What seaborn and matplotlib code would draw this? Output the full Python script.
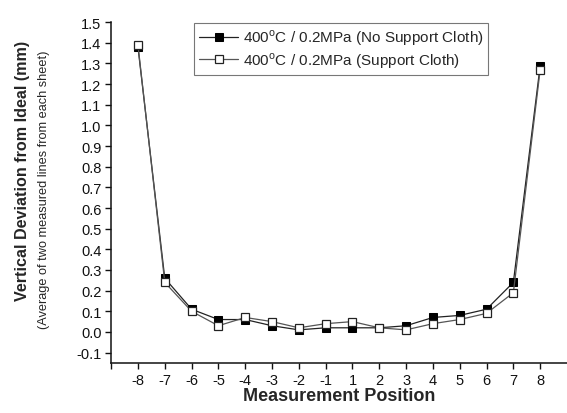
import numpy as np
import pandas as pd
import matplotlib
matplotlib.use("Agg")
import matplotlib.pyplot as plt
import seaborn as sns

positions = ["-8", "-7", "-6", "-5", "-4", "-3", "-2", "-1",
             "1", "2", "3", "4", "5", "6", "7", "8"]
no_support = [1.38, 0.26, 0.11, 0.06, 0.06, 0.03, 0.01, 0.02,
              0.02, 0.02, 0.03, 0.07, 0.08, 0.11, 0.24, 1.29]
support = [1.39, 0.24, 0.10, 0.03, 0.07, 0.05, 0.02, 0.04,
           0.05, 0.02, 0.01, 0.04, 0.06, 0.09, 0.19, 1.27]
series_names = [r"400$^{\mathrm{o}}$C / 0.2MPa (No Support Cloth)",
                r"400$^{\mathrm{o}}$C / 0.2MPa (Support Cloth)"]
yticks = [-0.1, 0.0, 0.1, 0.2, 0.3, 0.4, 0.5, 0.6, 0.7, 0.8, 0.9, 1.0,
          1.1, 1.2, 1.3, 1.4, 1.5]

sns.set_style("ticks")
plt.rcParams["font.family"] = ["Liberation Sans", "DejaVu Sans"]
plt.rcParams["mathtext.fontset"] = "custom"
plt.rcParams["mathtext.rm"] = "Liberation Sans"

idx = np.arange(1, len(positions) + 1)
df = pd.DataFrame({"pos": idx, "a": no_support, "b": support})

fig = plt.figure(figsize=(5.67, 4.14), dpi=100)
ax = fig.add_axes([0.196, 0.121, 0.804, 0.823])

sns.lineplot(data=df, x="pos", y="a", ax=ax, color="#222222", lw=0.9,
             marker="s", markersize=6, markerfacecolor="black",
             markeredgecolor="black", label=series_names[0])
sns.lineplot(data=df, x="pos", y="b", ax=ax, color="#555555", lw=0.9,
             marker="s", markersize=6, markerfacecolor="white",
             markeredgecolor="#222222", markeredgewidth=0.9,
             label=series_names[1])

ax.set_xlim(0, 17)
ax.set_ylim(-0.15, 1.5)
ax.set_xticks(np.arange(0, len(positions) + 1))
ax.set_xticklabels([""] + positions)
ax.set_yticks(yticks)
ax.set_yticklabels([f"{v:.1f}" for v in yticks])
ax.tick_params(axis="both", direction="out", length=4, width=1,
               labelsize=10.5, colors="#111111", pad=3)
for s in ["top", "right"]:
    ax.spines[s].set_visible(False)
for s in ["left", "bottom"]:
    ax.spines[s].set_linewidth(1.1)
    ax.spines[s].set_color("#111111")

ax.set_xlabel("Measurement Position", fontsize=13, fontweight="bold",
              labelpad=0)
ax.set_ylabel("")
fig.text(0.039, 0.587, "Vertical Deviation from Ideal (mm)", rotation=90,
         fontsize=11.6, fontweight="bold", ha="center", va="center")
fig.text(0.077, 0.541, "(Average of two measured lines from each sheet)",
         rotation=90, fontsize=9.2, ha="center", va="center")

leg = ax.legend(loc="upper left", bbox_to_anchor=(0.182, 0.997),
                fontsize=11, frameon=True, fancybox=False,
                edgecolor="#555555", handlelength=2.6, borderpad=0.3,
                labelspacing=0.2, handletextpad=0.3, borderaxespad=0)
leg.get_frame().set_linewidth(0.8)

fig.savefig("out.png", dpi=100)
